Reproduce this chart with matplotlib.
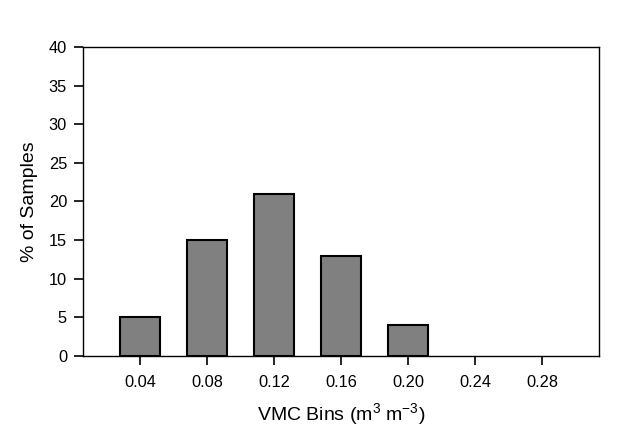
import matplotlib
matplotlib.use("Agg")
import matplotlib.pyplot as plt

plt.rcParams['font.family'] = ['Liberation Sans', 'DejaVu Sans']
plt.rcParams['mathtext.fontset'] = 'custom'
plt.rcParams['mathtext.rm'] = 'Liberation Sans'
plt.rcParams['mathtext.it'] = 'Liberation Sans:italic'

# VMC bin centres and share of samples in each bin
bins = [0.04, 0.08, 0.12, 0.16, 0.20, 0.24, 0.28]
percent = [5, 15, 21, 13, 4, 0, 0]
tick_labels = ['0.04', '0.08', '0.12', '0.16', '0.20', '0.24', '0.28']

fig = plt.figure(figsize=(6.23, 4.33), dpi=100)
ax = fig.add_axes([0.1332, 0.1778, 0.8283, 0.7137])

# skip empty bins so no flat outline is drawn on the axis
shown = [(b, p) for b, p in zip(bins, percent) if p > 0]
ax.bar([b for b, p in shown], [p for b, p in shown], width=0.0243,
       color='#808080', edgecolor='black', linewidth=1.5, zorder=3)

ax.set_xlim(0.006, 0.314)
ax.set_ylim(0, 40)
ax.set_xticks(bins)
ax.set_xticklabels(tick_labels)
ax.set_yticks(range(0, 41, 5))
ax.tick_params(direction='out', length=6.5, width=1.2, labelsize=11.8)
ax.tick_params(axis='x', pad=7)
ax.tick_params(axis='y', pad=5)

for s in ax.spines.values():
    s.set_linewidth(1.0)

ax.set_xlabel('VMC Bins (m$^3$ m$^{-3}$)', fontsize=14, labelpad=8)
ax.set_ylabel('% of Samples', fontsize=14, labelpad=8)

fig.savefig('out.png', dpi=100)
